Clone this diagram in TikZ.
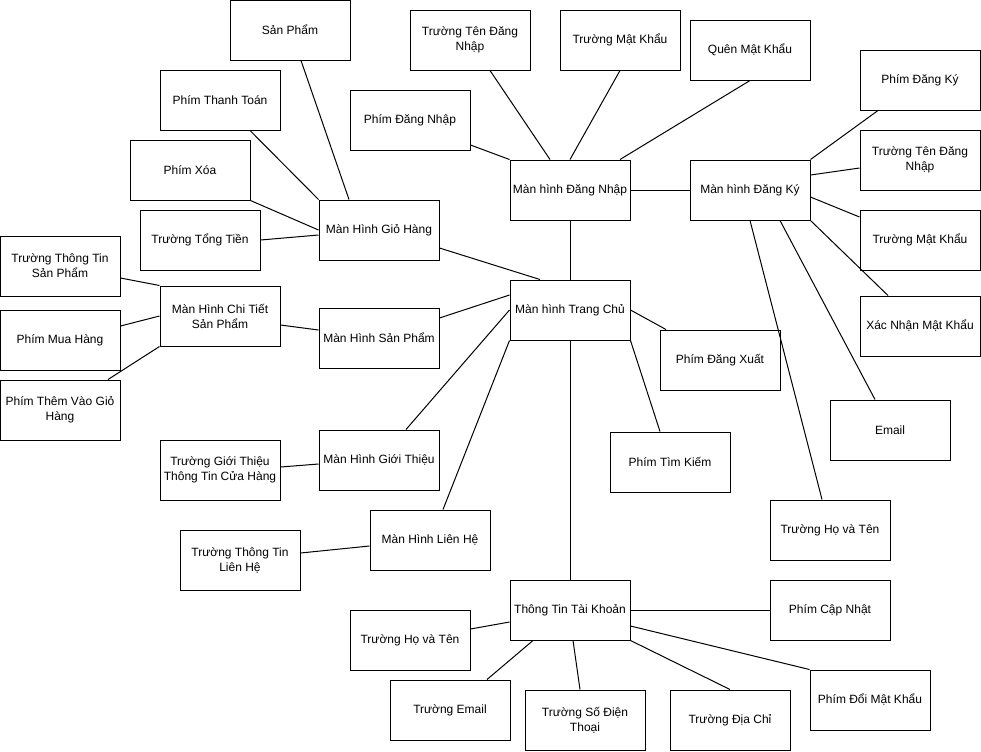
\documentclass[tikz,border=0pt]{standalone}
\usepackage{fontspec}
\setmainfont{Liberation Sans}
\usepackage{tikz}

\begin{document}
\begin{tikzpicture}[
    x=0.75pt, y=-0.75pt,
    font=\fontsize{9}{11.25}\selectfont,
    box/.style={rectangle, draw=black, line width=0.75pt, fill=white, minimum width=90pt, minimum height=45pt, align=center, inner sep=0pt},
    link/.style={draw=black, line width=0.75pt}
]
\fill[white] (0,0) rectangle (981,751);
\useasboundingbox (0,0) rectangle (981,751);

% cart screen group
\node[box] (sp) at (290,30) {Sản Phẩm};
\node[box] (thanhtoan) at (220,100) {Phím Thanh Toán};
\node[box] (xoa) at (190,170) {Phím Xóa};
\node[box] (tongtien) at (200,240) {Trường Tổng Tiền};
\node[box] (giohang) at (379,230) {Màn Hình Giỏ Hàng};

% login / register
\node[box] (tendn) at (470,40) {Trường Tên Đăng\\Nhập};
\node[box] (pdangnhap) at (410,120) {Phím Đăng Nhập};
\node[box] (matkhau) at (620,40) {Trường Mật Khẩu};
\node[box] (quenmk) at (750,50) {Quên Mật Khẩu};
\node[box] (dangnhap) at (570,190) {Màn hình Đăng Nhập};
\node[box] (dangky) at (750,190) {Màn hình Đăng Ký};
\node[box] (pdangky) at (920,80) {Phím Đăng Ký};
\node[box] (tendk) at (920,160) {Trường Tên Đăng\\Nhập};
\node[box] (matkhaudk) at (920,240) {Trường Mật Khẩu};
\node[box] (xacnhan) at (920,326) {Xác Nhận Mật Khẩu};
\node[box] (email) at (890,430) {Email};
\node[box] (hotendk) at (830,530) {Trường Họ và Tên};

% home
\node[box] (trangchu) at (570,310) {Màn hình Trang Chủ};
\node[box] (dangxuat) at (720,360) {Phím Đăng Xuất};
\node[box] (timkiem) at (670,462) {Phím Tìm Kiếm};

% products
\node[box] (ttsp) at (60,266) {Trường Thông Tin\\Sản Phẩm};
\node[box] (chitiet) at (220,316) {Màn Hình Chi Tiết\\Sản Phẩm};
\node[box] (muahang) at (60,340) {Phím Mua Hàng};
\node[box] (themgio) at (60,410) {Phím Thêm Vào Giỏ\\Hàng};
\node[box] (sanpham) at (379,338) {Màn Hình Sản Phẩm};

% about / contact
\node[box] (ttgioithieu) at (220,470) {Trường Giới Thiệu\\Thông Tin Cửa Hàng};
\node[box] (gioithieu) at (379,460) {Màn Hình Giới Thiệu};
\node[box] (lienhe) at (430,540) {Màn Hình Liên Hệ};
\node[box] (ttlienhe) at (240,560) {Trường Thông Tin\\Liên Hệ};

% account
\node[box] (taikhoan) at (570,610) {Thông Tin Tài Khoản};
\node[box] (capnhat) at (830,610) {Phím Cập Nhật};
\node[box] (hotentk) at (410,640) {Trường Họ và Tên};
\node[box] (temail) at (450,710) {Trường Email};
\node[box] (sdt) at (585,720) {Trường Số Điện\\Thoại};
\node[box] (diachi) at (730,720) {Trường Địa Chỉ};
\node[box] (doimk) at (870,700) {Phím Đổi Mật Khẩu};

% cart links
\draw[link] ([shift={(11,0)}]sp.south) -- ([shift={(-30,0)}]giohang.north);
\draw[link] ([shift={(30,0)}]thanhtoan.south) -- (giohang.north west);
\draw[link] (xoa.south east) -- (giohang.west);
\draw[link] (tongtien.east) -- ([shift={(0,5)}]giohang.west);
\draw[link] ([shift={(0,18)}]giohang.east) -- ([shift={(-30,0)}]trangchu.north);

% login links
\draw[link] ([shift={(0,25)}]pdangnhap.east) -- (dangnhap.north west);
\draw[link] ([shift={(20,0)}]tendn.south) -- ([shift={(-20,0)}]dangnhap.north);
\draw[link] (matkhau.south) -- (dangnhap.north);
\draw[link] (quenmk.south) -- ([shift={(50,0)}]dangnhap.north);
\draw[link] (dangnhap.east) -- (dangky.west);
\draw[link] (dangnhap.south) -- (trangchu.north);

% register links
\draw[link] (dangky.north east) -- ([shift={(-42,0)}]pdangky.south);
\draw[link] ([shift={(0,-15)}]dangky.east) -- ([shift={(0,8)}]tendk.west);
\draw[link] ([shift={(0,7)}]dangky.east) -- ([shift={(0,-23)}]matkhaudk.west);
\draw[link] (dangky.south east) -- ([shift={(-32,0)}]xacnhan.north);
\draw[link] ([shift={(30,0)}]dangky.south) -- ([shift={(-15,0)}]email.north);
\draw[link] (dangky.south) -- ([shift={(-8,0)}]hotendk.north);

% home links
\draw[link] (trangchu.east) -- ([shift={(-54,0)}]dangxuat.north);
\draw[link] (trangchu.south east) -- ([shift={(-10,0)}]timkiem.north);
\draw[link] (trangchu.south) -- (taikhoan.north);
\draw[link] ([shift={(0,-20)}]sanpham.east) -- ([shift={(0,-15)}]trangchu.west);
\draw[link] ([shift={(27,0)}]gioithieu.north) -- (trangchu.west);
\draw[link] ([shift={(13,0)}]lienhe.north) -- (trangchu.south west);

% product links
\draw[link] ([shift={(0,9)}]chitiet.east) -- ([shift={(0,-8)}]sanpham.west);
\draw[link] ([shift={(0,12)}]ttsp.east) -- (chitiet.north west);
\draw[link] ([shift={(0,-14)}]muahang.east) -- (chitiet.west);
\draw[link] ([shift={(48,0)}]themgio.north) -- (chitiet.south west);
\draw[link] ([shift={(0,-3)}]ttgioithieu.east) -- ([shift={(0,4)}]gioithieu.west);
\draw[link] ([shift={(0,-7)}]ttlienhe.east) -- ([shift={(0,6)}]lienhe.west);

% account links
\draw[link] (taikhoan.east) -- (capnhat.west);
\draw[link] ([shift={(0,-11)}]hotentk.east) -- ([shift={(0,12)}]taikhoan.west);
\draw[link] ([shift={(-37,0)}]taikhoan.south) -- ([shift={(37,0)}]temail.north);
\draw[link] ([shift={(3,0)}]taikhoan.south) -- ([shift={(-5,0)}]sdt.north);
\draw[link] (taikhoan.south east) -- (diachi.north);
\draw[link] ([shift={(0,16)}]taikhoan.east) -- (doimk.north west);
\end{tikzpicture}
\end{document}
